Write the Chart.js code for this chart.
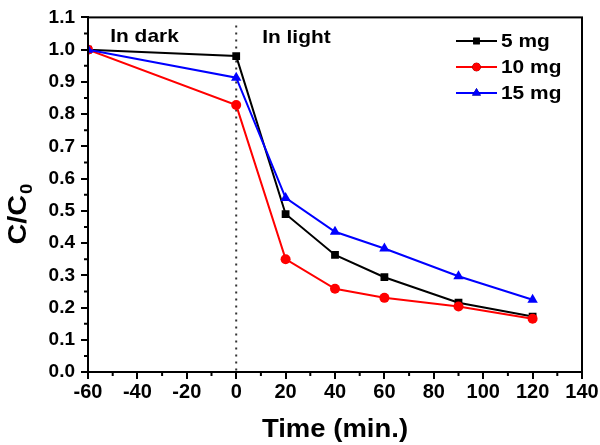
<!DOCTYPE html>
<html>
<head>
<meta charset="utf-8">
<script src="https://cdn.jsdelivr.net/npm/chart.js@4/dist/chart.umd.min.js"></script>
<style>
html,body{margin:0;padding:0;background:#fff;}
#wrap{width:600px;height:445px;position:relative;}
</style>
</head>
<body>
<div id="wrap"><canvas id="c" width="600" height="445"></canvas></div>
<script>
const times = [-60, 0, 20, 40, 60, 90, 120];
const seriesNames = ['5 mg', '10 mg', '15 mg'];
const values5mg  = [1.00, 0.98, 0.49, 0.363, 0.294, 0.215, 0.172];
const values10mg = [1.00, 0.828, 0.35, 0.258, 0.230, 0.203, 0.165];
const values15mg = [1.00, 0.913, 0.54, 0.435, 0.383, 0.297, 0.224];
const xTicks = [-60, -40, -20, 0, 20, 40, 60, 80, 100, 120, 140];
const yTicks = [0.0, 0.1, 0.2, 0.3, 0.4, 0.5, 0.6, 0.7, 0.8, 0.9, 1.0, 1.1];
const xTitle = 'Time (min.)';
const yTitleMain = 'C/C';
const yTitleSub = '0';
const darkLabel = 'In dark';
const lightLabel = 'In light';

const colors = ['#000000', '#ff0000', '#0000ff'];
const shapes = ['rect', 'circle', 'triangle'];
const radii = [5.5, 5, 6];
const allValues = [values5mg, values10mg, values15mg];

const FONT = '"Liberation Sans", Arial, sans-serif';
const SX = 1.1;

const datasets = allValues.map((vals, i) => ({
  label: seriesNames[i],
  data: times.map((t, j) => ({x: t, y: vals[j]})),
  borderColor: colors[i],
  backgroundColor: colors[i],
  borderWidth: 2,
  pointStyle: shapes[i],
  pointRadius: radii[i],
  pointBorderWidth: 0,
  pointBackgroundColor: colors[i],
  tension: 0,
  order: 3 - i
}));

function wideText(ctx, txt, x, y, align) {
  ctx.save();
  ctx.translate(x, y);
  ctx.scale(SX, 1);
  ctx.textAlign = align || 'left';
  ctx.fillText(txt, 0, 0);
  ctx.restore();
}

const decor = {
  id: 'decor',
  beforeDatasetsDraw(chart) {
    const {ctx, chartArea: a, scales: {x}} = chart;
    const x0 = x.getPixelForValue(0);
    ctx.save();
    ctx.strokeStyle = '#333';
    ctx.lineWidth = 2;
    ctx.setLineDash([2, 5]);
    ctx.beginPath();
    ctx.moveTo(x0, a.top + 8);
    ctx.lineTo(x0, a.bottom);
    ctx.stroke();
    ctx.restore();
  },
  afterDraw(chart) {
    const {ctx, chartArea: a, scales: {x, y}} = chart;
    ctx.save();
    ctx.strokeStyle = '#000';
    ctx.lineWidth = 2;
    ctx.strokeRect(a.left, a.top, a.right - a.left, a.bottom - a.top);
    ctx.beginPath();
    for (let i = 0; i < xTicks.length - 1; i++) {
      const v = (xTicks[i] + xTicks[i + 1]) / 2;
      const px = x.getPixelForValue(v);
      ctx.moveTo(px, a.bottom);
      ctx.lineTo(px, a.bottom + 4);
    }
    for (let i = 0; i < yTicks.length - 1; i++) {
      const v = (yTicks[i] + yTicks[i + 1]) / 2;
      const py = y.getPixelForValue(v);
      ctx.moveTo(a.left, py);
      ctx.lineTo(a.left - 4, py);
    }
    ctx.stroke();

    ctx.fillStyle = '#000';
    ctx.font = 'bold 19px ' + FONT;
    ctx.textBaseline = 'alphabetic';
    wideText(ctx, darkLabel, x.getPixelForValue(-51), y.getPixelForValue(1.025));
    wideText(ctx, lightLabel, x.getPixelForValue(10.5), y.getPixelForValue(1.02));

    const lx0 = 456, lx1 = 497, ly0 = 41, dy = 26;
    chart.data.datasets.forEach((ds, i) => {
      const yy = ly0 + i * dy;
      ctx.strokeStyle = ds.borderColor;
      ctx.lineWidth = 2;
      ctx.beginPath();
      ctx.moveTo(lx0, yy);
      ctx.lineTo(lx1, yy);
      ctx.stroke();
      Chart.helpers.drawPoint(ctx, {pointStyle: ds.pointStyle, radius: ds.pointRadius * 0.85, borderWidth: 0, rotation: 0}, (lx0 + lx1) / 2, yy);
      ctx.fillStyle = ds.borderColor;
      ctx.fill();
      ctx.fillStyle = '#000';
      ctx.font = 'bold 19px ' + FONT;
      ctx.textBaseline = 'middle';
      wideText(ctx, ds.label, lx1 + 4, yy + 1);
    });

    ctx.fillStyle = '#000';
    ctx.textBaseline = 'alphabetic';
    ctx.font = 'bold 25px ' + FONT;
    wideText(ctx, xTitle, (a.left + a.right) / 2, 437, 'center');

    ctx.translate(26, (a.top + a.bottom) / 2 + 20);
    ctx.rotate(-Math.PI / 2);
    ctx.scale(1.15, 1);
    ctx.textAlign = 'left';
    ctx.font = 'bold 25px ' + FONT;
    const w = ctx.measureText(yTitleMain).width;
    ctx.font = 'bold 16px ' + FONT;
    const ws = ctx.measureText(yTitleSub).width;
    const start = -(w + ws) / 2;
    ctx.font = 'bold 25px ' + FONT;
    ctx.fillText(yTitleMain, start, 0);
    ctx.font = 'bold 16px ' + FONT;
    ctx.fillText(yTitleSub, start + w + 1, 6);
    ctx.restore();
  }
};

new Chart(document.getElementById('c'), {
  type: 'line',
  data: {datasets},
  options: {
    responsive: false,
    animation: false,
    layout: {padding: {top: 11, right: 18, left: 0, bottom: 0}},
    plugins: {legend: {display: false}, tooltip: {enabled: false}},
    scales: {
      x: {
        type: 'linear',
        min: -60, max: 140,
        afterBuildTicks: s => { s.ticks = xTicks.map(v => ({value: v})); },
        afterFit: s => { s.height = 73; },
        grid: {display: true, drawOnChartArea: false, drawTicks: true, tickLength: 7, color: '#000', lineWidth: 2},
        border: {display: true, color: '#000', width: 2},
        ticks: {color: '#000', padding: 1, font: {family: FONT, size: 20, weight: 'bold'}, maxRotation: 0, autoSkip: false},
        title: {display: false}
      },
      y: {
        type: 'linear',
        min: 0, max: 1.1,
        afterBuildTicks: s => { s.ticks = yTicks.map(v => ({value: v})); },
        afterFit: s => { s.width = 88; },
        grid: {display: true, drawOnChartArea: false, drawTicks: true, tickLength: 7, color: '#000', lineWidth: 2},
        border: {display: true, color: '#000', width: 2},
        ticks: {color: '#000', padding: 6, font: {family: FONT, size: 19, weight: 'bold'}, autoSkip: false,
          callback: v => Number(v).toFixed(1)},
        title: {display: false}
      }
    }
  },
  plugins: [decor]
});
</script>
</body>
</html>
